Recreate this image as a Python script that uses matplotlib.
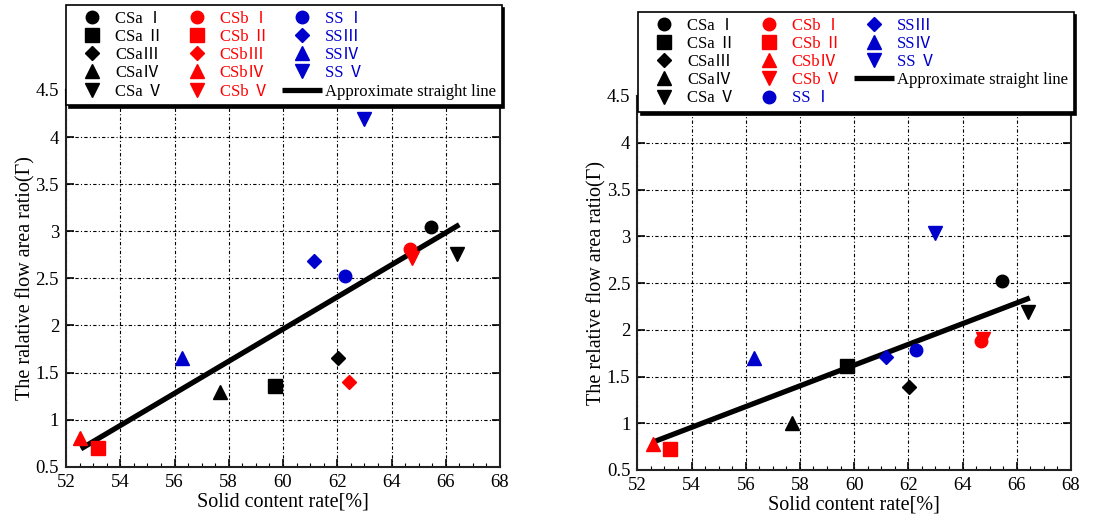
import matplotlib
matplotlib.use("Agg")
import matplotlib.pyplot as plt
from matplotlib.ticker import MultipleLocator

plt.rcParams["font.family"] = ["Liberation Serif", "Noto Sans CJK JP", "DejaVu Serif"]

# ---- left panel data ----
LEFT_LABELS = ["CSa Ⅰ", "CSa Ⅱ", "CSaⅢ", "CSaⅣ", "CSa Ⅴ",
               "CSb Ⅰ", "CSb Ⅱ", "CSbⅢ", "CSbⅣ", "CSb Ⅴ",
               "SS Ⅰ", "SSⅢ", "SSⅣ", "SS Ⅴ"]
LEFT_X = [65.47, 59.72, 62.01, 57.66, 66.42,
          64.67, 53.17, 62.45, 52.53, 64.74,
          62.27, 61.13, 56.29, 62.97]
LEFT_Y = [3.04, 1.36, 1.65, 1.29, 2.76,
          2.81, 0.70, 1.40, 0.80, 2.72,
          2.52, 2.68, 1.65, 4.19]
LEFT_FIT_X = [52.55, 66.5]
LEFT_FIT_Y = [0.69, 3.07]

# ---- right panel data ----
RIGHT_LABELS = ["CSa Ⅰ", "CSa Ⅱ", "CSaⅢ", "CSaⅣ", "CSa Ⅴ",
                "CSb Ⅰ", "CSb Ⅱ", "CSbⅣ", "CSb Ⅴ",
                "SS Ⅰ", "SSⅢ", "SSⅣ", "SS Ⅴ"]
RIGHT_X = [65.47, 59.75, 62.03, 57.70, 66.43,
           64.68, 53.19, 52.59, 64.76,
           62.28, 61.17, 56.31, 62.98]
RIGHT_Y = [2.52, 1.61, 1.39, 1.00, 2.19,
           1.88, 0.72, 0.78, 1.90,
           1.78, 1.71, 1.70, 3.04]
RIGHT_FIT_X = [52.59, 66.48]
RIGHT_FIT_Y = [0.80, 2.34]

GROUP_COLORS = {"CSa": "black", "CSb": "#ff0000", "SS": "#0000cc"}
NUMERAL_MARKERS = {"Ⅰ": ("o", 9), "Ⅱ": ("s", 10), "Ⅲ": ("D", 7),
                   "Ⅳ": ("^", 10), "Ⅴ": ("v", 10)}


def style_for(label):
    group = label[:3] if label.startswith("CS") else "SS"
    marker, size = NUMERAL_MARKERS[label.strip()[-1]]
    return GROUP_COLORS[group], marker, size


def draw_panel(fig, rect, labels, xs, ys, fit_x, fit_y, ylabel, legend_box):
    ax = fig.add_axes(rect)
    handles = []
    for label, x, y in zip(labels, xs, ys):
        color, marker, size = style_for(label)
        h, = ax.plot(x, y, linestyle="none", marker=marker, markersize=size,
                     color=color, label=label, zorder=3)
        handles.append(h)
    fit, = ax.plot(fit_x, fit_y, color="black", linewidth=3.8,
                   solid_capstyle="butt", label="Approximate straight line", zorder=2)
    handles.append(fit)

    ax.set_xlim(52, 68)
    ax.set_ylim(0.5, 4.5)
    ax.xaxis.set_major_locator(MultipleLocator(2))
    ax.xaxis.set_minor_locator(MultipleLocator(0.5))
    ax.yaxis.set_major_locator(MultipleLocator(0.5))
    ax.yaxis.set_major_formatter(plt.FuncFormatter(lambda v, p: f"{v:g}"))
    ax.tick_params(which="both", direction="in", top=True, right=True,
                   labelsize=13.5, pad=5)
    ax.tick_params(which="major", length=6, width=1.2)
    ax.tick_params(which="minor", length=3, width=0.8)
    ax.grid(True, which="major", color="black", linewidth=0.8,
            linestyle=(0, (3, 2, 1, 2)))
    for sp in ax.spines.values():
        sp.set_linewidth(1.5)
        sp.set_color("#222222")

    ax.set_xlabel("Solid content rate[%]", fontsize=14.5, labelpad=1)
    ax.set_ylabel(ylabel, fontsize=14.5, labelpad=0)

    leg = ax.legend(handles=handles, ncol=3, loc="upper left",
                    bbox_to_anchor=legend_box, bbox_transform=fig.transFigure,
                    borderaxespad=0, fontsize=12,
                    handlelength=2.45, handletextpad=0.15, labelspacing=0.13,
                    borderpad=0.35, columnspacing=0.75, fancybox=False,
                    framealpha=1, edgecolor="black",
                    shadow={"color": "black", "alpha": 1})
    leg.get_frame().set_linewidth(1.2)
    for text, h in zip(leg.get_texts(), handles):
        text.set_color(h.get_color())
    return ax


fig = plt.figure(figsize=(11.17, 5.2), dpi=100)

draw_panel(fig, [66 / 1117, 1 - 466.7 / 520, 434 / 1117, 376.7 / 520],
           LEFT_LABELS, LEFT_X, LEFT_Y, LEFT_FIT_X, LEFT_FIT_Y,
           "The ralative flow area ratio(Γ)",
           (66 / 1117, 1 - 5 / 520))

draw_panel(fig, [637.3 / 1117, 1 - 470 / 520, 433.7 / 1117, 374 / 520],
           RIGHT_LABELS, RIGHT_X, RIGHT_Y, RIGHT_FIT_X, RIGHT_FIT_Y,
           "The relative flow area ratio(Γ)",
           (638 / 1117, 1 - 12 / 520))

fig.savefig("out.png", dpi=100)
